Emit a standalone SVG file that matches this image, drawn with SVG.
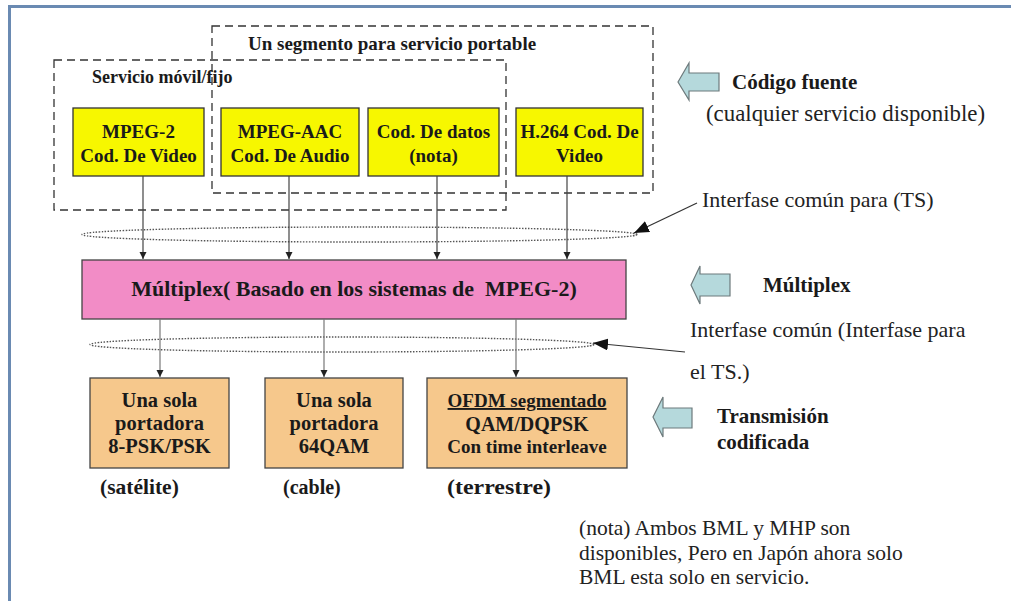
<svg xmlns="http://www.w3.org/2000/svg" width="1011" height="601" viewBox="0 0 1011 601">
<defs>
<style>
.b{font-family:"Liberation Serif","Times New Roman","DejaVu Serif",serif;font-weight:bold;fill:#1a1a1a}
.r{font-family:"Liberation Serif","Times New Roman","DejaVu Serif",serif;fill:#222}
.dash{fill:none;stroke:#333;stroke-width:1.3;stroke-dasharray:8 5}
.yel{fill:#f7f700;stroke:#333;stroke-width:1.3}
.org{fill:#f6c88c;stroke:#444;stroke-width:1.3}
.pnk{fill:#f28cc6;stroke:#444;stroke-width:1.3}
.blu{fill:#b5d9dc;stroke:#6d7a7c;stroke-width:1.2}
.ln{fill:none;stroke:#444;stroke-width:1.2}
.ln2{fill:none;stroke:#777;stroke-width:1.2}
.ell{fill:none;stroke:#555;stroke-width:1.4;stroke-dasharray:1.5 1.5}
</style>
<marker id="ah" markerWidth="8" markerHeight="8" refX="7" refY="4" orient="auto" markerUnits="userSpaceOnUse">
<path d="M0,0.5 L7,4 L0,7.5 Z" fill="#222"/>
</marker>
<marker id="ah2" markerWidth="16" markerHeight="12" refX="15" refY="6" orient="auto" markerUnits="userSpaceOnUse">
<path d="M0,0 L15,6 L0,12 Z" fill="#111"/>
</marker>
</defs>
<rect x="0" y="0" width="1011" height="601" fill="#ffffff"/>
<g id="frame">
<line x1="8" y1="6.5" x2="1011" y2="6.5" stroke="#6a8ab2" stroke-width="3"/>
<line x1="9.5" y1="5" x2="9.5" y2="601" stroke="#6a8ab2" stroke-width="3"/>
</g>
<g id="grupo-portable">
<rect class="dash" x="212" y="26" width="441" height="167"/>
<text class="b" x="248" y="50" font-size="19">Un segmento para servicio portable</text>
</g>
<g id="grupo-movil">
<rect class="dash" x="54" y="60" width="452" height="150"/>
<text class="b" x="92" y="83" font-size="18">Servicio móvil/fijo</text>
</g>
<g id="mpeg2">
<rect class="yel" x="73" y="108" width="131" height="68"/>
<text class="b" x="138.5" y="138" font-size="19" text-anchor="middle">MPEG-2</text>
<text class="b" x="138.5" y="162" font-size="19" text-anchor="middle">Cod. De Video</text>
</g>
<g id="aac">
<rect class="yel" x="221" y="108" width="138" height="68"/>
<text class="b" x="290" y="138" font-size="19" text-anchor="middle">MPEG-AAC</text>
<text class="b" x="290" y="162" font-size="19" text-anchor="middle">Cod. De Audio</text>
</g>
<g id="datos">
<rect class="yel" x="368" y="108" width="131" height="68"/>
<text class="b" x="433.5" y="138" font-size="19" text-anchor="middle">Cod. De datos</text>
<text class="b" x="433.5" y="162" font-size="19" text-anchor="middle">(nota)</text>
</g>
<g id="h264">
<rect class="yel" x="516" y="108" width="127" height="68"/>
<text class="b" x="579.5" y="138" font-size="19" text-anchor="middle">H.264 Cod. De</text>
<text class="b" x="579.5" y="162" font-size="19" text-anchor="middle">Video</text>
</g>
<g id="ts1">
<ellipse class="ell" cx="359.5" cy="234.5" rx="277.5" ry="7.5"/>
</g>
<g id="multiplex">
<rect class="pnk" x="82" y="260" width="544" height="59"/>
<text class="b" x="354" y="296" font-size="22" text-anchor="middle" xml:space="preserve">Múltiplex( Basado en los sistemas de  MPEG-2)</text>
</g>
<g id="ts2">
<ellipse class="ell" cx="342" cy="344.5" rx="252" ry="7.5"/>
</g>
<g id="satelite">
<rect class="org" x="90" y="378" width="139" height="90"/>
<text class="b" x="159.5" y="407" font-size="20.5" text-anchor="middle">Una sola</text>
<text class="b" x="159.5" y="430" font-size="20.5" text-anchor="middle">portadora</text>
<text class="b" x="159.5" y="453" font-size="20.5" text-anchor="middle">8-PSK/PSK</text>
</g>
<g id="cable">
<rect class="org" x="265" y="378" width="138" height="90"/>
<text class="b" x="334" y="407" font-size="20.5" text-anchor="middle">Una sola</text>
<text class="b" x="334" y="430" font-size="20.5" text-anchor="middle">portadora</text>
<text class="b" x="334" y="453" font-size="20.5" text-anchor="middle">64QAM</text>
</g>
<g id="terrestre">
<rect class="org" x="427" y="378" width="200" height="90"/>
<text class="b" x="527" y="407" font-size="19" text-anchor="middle" text-decoration="underline">OFDM segmentado</text>
<text class="b" x="527" y="431" font-size="20" text-anchor="middle">QAM/DQPSK</text>
<text class="b" x="527" y="453" font-size="19" text-anchor="middle">Con time interleave</text>
</g>
<g id="etiquetas-medio">
<text class="b" x="100" y="494" font-size="21.5">(satélite)</text>
<text class="b" x="283" y="494" font-size="20">(cable)</text>
<text class="b" x="447" y="494" font-size="22" textLength="104" lengthAdjust="spacingAndGlyphs">(terrestre)</text>
</g>
<g id="codigo-fuente">
<path class="blu" d="M678,82 L689,63 L689,73 L719,73 L719,91 L689,91 L689,100 Z"/>
<text class="b" x="732" y="89" font-size="21">Código fuente</text>
<text class="r" x="706" y="121" font-size="22.5" textLength="279" lengthAdjust="spacingAndGlyphs">(cualquier servicio disponible)</text>
</g>
<g id="etiqueta-multiplex">
<path class="blu" d="M691,285 L700,266 L700,274 L730,274 L730,296 L700,296 L700,304 Z"/>
<text class="b" x="763" y="292" font-size="21">Múltiplex</text>
</g>
<g id="transmision">
<path class="blu" d="M653,417 L663,397 L663,408 L692,408 L692,428 L663,428 L663,437 Z"/>
<text class="b" x="717" y="423" font-size="21">Transmisión</text>
<text class="b" x="717" y="449" font-size="21">codificada</text>
</g>
<g id="interfase-ts">
<text class="r" x="702" y="207" font-size="22">Interfase común para (TS)</text>
</g>
<g id="interfase-comun">
<text class="r" x="690" y="337" font-size="22">Interfase común (Interfase para</text>
<text class="r" x="690" y="379" font-size="22">el TS.)</text>
</g>
<g id="nota">
<text class="r" x="579" y="535" font-size="21.5">(nota) Ambos BML y MHP son</text>
<text class="r" x="579" y="560" font-size="21.5">disponibles, Pero en Japón ahora solo</text>
<text class="r" x="579" y="584" font-size="21.5">BML esta solo en servicio.</text>
</g>
<g id="conectores">
<line class="ln" x1="143" y1="176" x2="143" y2="259" marker-end="url(#ah)"/>
<line class="ln" x1="289" y1="176" x2="289" y2="259" marker-end="url(#ah)"/>
<line class="ln" x1="437" y1="176" x2="437" y2="259" marker-end="url(#ah)"/>
<line class="ln" x1="567" y1="176" x2="567" y2="259" marker-end="url(#ah)"/>
<line class="ln2" x1="160" y1="319" x2="160" y2="377" marker-end="url(#ah)"/>
<line class="ln2" x1="324" y1="319" x2="324" y2="377" marker-end="url(#ah)"/>
<line class="ln2" x1="516" y1="319" x2="516" y2="377" marker-end="url(#ah)"/>
<line x1="697" y1="203" x2="634" y2="233" stroke="#333" stroke-width="1.2" marker-end="url(#ah2)"/>
<line x1="685" y1="352" x2="593" y2="343" stroke="#333" stroke-width="1.2" marker-end="url(#ah2)"/>
</g>
</svg>
